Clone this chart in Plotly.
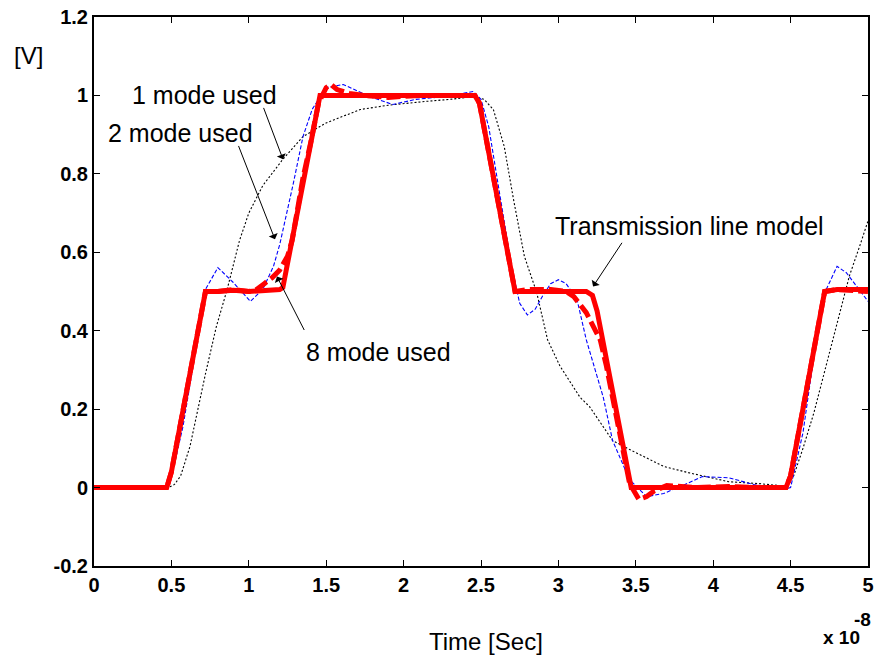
import plotly.graph_objects as go

# Time in units of 1e-8 s
tlm_t = [0, 0.47, 0.50, 0.72, 0.80, 0.90, 1.00, 1.10, 1.20, 1.22, 1.46, 1.50, 1.70, 2.00, 2.30, 2.46, 2.49, 2.72,
         2.80, 3.00, 3.18, 3.22, 3.25, 3.47, 3.55, 3.80, 4.00, 4.30, 4.47, 4.50, 4.72, 4.80, 5.00]
tlm_v = [0, 0, 0.04, 0.50, 0.50, 0.503, 0.50, 0.503, 0.505, 0.51, 1.00, 1.00, 1.00, 1.00, 1.00, 1.00, 0.98, 0.50,
         0.50, 0.50, 0.50, 0.49, 0.45, 0.0, 0.0, 0.0, 0.0, 0.0, 0.0, 0.03, 0.50, 0.505, 0.505]

m8_t = [0, 0.47, 0.50, 0.72, 0.80, 0.90, 1.00, 1.05, 1.10, 1.15, 1.20, 1.25, 1.28, 1.35, 1.40, 1.45, 1.50, 1.53,
        1.57, 1.65, 1.75, 1.90, 2.10, 2.30, 2.46, 2.49, 2.72, 2.80, 2.95, 3.05, 3.10, 3.18, 3.27, 3.31, 3.40, 3.46,
        3.52, 3.57, 3.62, 3.70, 3.90, 4.10, 4.30, 4.47, 4.50, 4.72, 4.80, 5.00]
m8_v = [0, 0, 0.04, 0.50, 0.50, 0.505, 0.50, 0.505, 0.52, 0.535, 0.555, 0.59, 0.63, 0.79, 0.88, 0.98, 1.02, 1.028,
        1.015, 1.005, 1.0, 0.995, 1.0, 1.0, 1.0, 0.98, 0.50, 0.505, 0.505, 0.50, 0.487, 0.446, 0.377, 0.31, 0.13, 0.01,
        -0.03, -0.023, -0.008, 0.005, 0.0, 0.003, 0.0, 0.0, 0.03, 0.50, 0.505, 0.50]

m2_t = [0, 0.47, 0.49, 0.575, 0.64, 0.70, 0.72, 0.80, 0.90, 1.01, 1.09, 1.16, 1.20, 1.29, 1.35, 1.41, 1.50, 1.61,
        1.78, 1.93, 2.08, 2.26, 2.45, 2.50, 2.55, 2.62, 2.70, 2.75, 2.80, 2.85, 2.90, 2.95, 3.00, 3.05, 3.12, 3.18,
        3.29, 3.35, 3.46, 3.57, 3.68, 3.79, 3.93, 4.10, 4.26, 4.45, 4.50, 4.58, 4.67, 4.73, 4.80, 4.86, 4.93, 5.00]
m2_v = [0, 0, 0.01, 0.156, 0.31, 0.46, 0.505, 0.561, 0.523, 0.475, 0.505, 0.565, 0.62, 0.78, 0.895, 0.965, 1.02, 1.028,
        0.997, 0.977, 0.99, 0.997, 1.01, 0.99, 0.92, 0.75, 0.56, 0.47, 0.44, 0.455, 0.49, 0.52, 0.53, 0.52, 0.48, 0.377,
        0.23, 0.12, 0.02, -0.023, -0.015, 0.003, 0.028, 0.025, 0.008, -0.005, 0.0, 0.14, 0.39, 0.505, 0.564, 0.548, 0.513, 0.475]

m1_t = [0, 0.48, 0.52, 0.56, 0.62, 0.67, 0.72, 0.79, 0.86, 0.94, 1.00, 1.09, 1.18, 1.22, 1.35, 1.50, 1.72, 1.90,
        2.15, 2.30, 2.45, 2.52, 2.58, 2.65, 2.71, 2.78, 2.86, 2.93, 3.01, 3.14, 3.20, 3.27, 3.35, 3.46, 3.68, 3.85,
        4.10, 4.30, 4.48, 4.52, 4.58, 4.65, 4.73, 4.82, 4.88, 4.95, 5.00]
m1_v = [0, 0, 0.008, 0.03, 0.105, 0.20, 0.29, 0.41, 0.505, 0.63, 0.70, 0.77, 0.815, 0.837, 0.895, 0.93, 0.964, 0.975,
        0.985, 0.99, 0.997, 0.99, 0.964, 0.87, 0.735, 0.59, 0.497, 0.377, 0.31, 0.23, 0.207, 0.165, 0.12, 0.097, 0.054, 0.037,
        0.015, 0.01, 0.003, 0.03, 0.10, 0.19, 0.31, 0.45, 0.54, 0.62, 0.68]

y_ticks = [-0.2, 0, 0.2, 0.4, 0.6, 0.8, 1.0, 1.2]
y_labels = ["-0.2", "0", "0.2", "0.4", "0.6", "0.8", "1", "1.2"]
x_ticks = [0, 0.5, 1, 1.5, 2, 2.5, 3, 3.5, 4, 4.5, 5]
x_labels = ["0", "0.5", "1", "1.5", "2", "2.5", "3", "3.5", "4", "4.5", "5"]

FONT = "Liberation Sans, Arial, sans-serif"

fig = go.Figure()
fig.add_trace(go.Scatter(x=m1_t, y=m1_v, mode="lines", line=dict(color="black", width=1.1, dash="2px,2px"),
                         name="1 mode used"))
fig.add_trace(go.Scatter(x=m2_t, y=m2_v, mode="lines", line=dict(color="blue", width=1.1, dash="4px,2px"),
                         name="2 mode used"))
fig.add_trace(go.Scatter(x=tlm_t, y=tlm_v, mode="lines", line=dict(color="red", width=5),
                         name="Transmission line model"))
fig.add_trace(go.Scatter(x=m8_t, y=m8_v, mode="lines", line=dict(color="red", width=5, dash="14px,5px"),
                         name="8 mode used"))

arrows = [
    ("1 mode used", 1.221, 0.837, 1.092, 0.972, 0.717, 1.0),
    ("2 mode used", 1.169, 0.633, 0.930, 0.875, 0.556, 0.903),
    ("8 mode used", 1.182, 0.538, 1.363, 0.398, 1.835, 0.347),
    ("Transmission line model", 3.224, 0.513, 3.417, 0.628, 3.85, 0.666),
]
for text, hx, hy, tx, ty, lx, ly in arrows:
    fig.add_annotation(x=hx, y=hy, ax=tx, ay=ty, xref="x", yref="y", axref="x", ayref="y",
                       text="", showarrow=True, arrowhead=1, arrowsize=1.6, arrowwidth=1, arrowcolor="black")
    fig.add_annotation(x=lx, y=ly, xref="x", yref="y", text=text, showarrow=False,
                       xanchor="center", yanchor="middle",
                       font=dict(family=FONT, size=25, color="black"))

def paper_text(text, x, y, size, bold=False):
    fig.add_annotation(x=x, y=y, xref="paper", yref="paper", text=text, showarrow=False,
                       xanchor="center", yanchor="middle",
                       font=dict(family=FONT, size=size, color="black", weight="bold" if bold else "normal"))

paper_text("Time [Sec]", 0.506, -0.137, 24)
paper_text("[V]", -0.085, 0.929, 24)
paper_text("x 10", 0.966, -0.131, 19, bold=True)
paper_text("-8", 0.993, -0.098, 19, bold=True)

axis_common = dict(showline=True, linecolor="black", linewidth=2, mirror="ticks", ticks="inside",
                   ticklen=6, tickwidth=1, tickcolor="black", showgrid=False, zeroline=False,
                   automargin=False,
                   tickfont=dict(family=FONT, size=20, color="black", weight="bold"))
fig.update_xaxes(range=[0, 5], tickvals=x_ticks, ticktext=x_labels, **axis_common)
fig.update_yaxes(range=[-0.2, 1.2], tickvals=y_ticks, ticktext=y_labels, **axis_common)

fig.update_layout(width=880, height=660, margin=dict(l=94, r=12, t=17, b=94, autoexpand=False),
                  paper_bgcolor="white", plot_bgcolor="white", showlegend=False)

fig.write_html("out.html")
